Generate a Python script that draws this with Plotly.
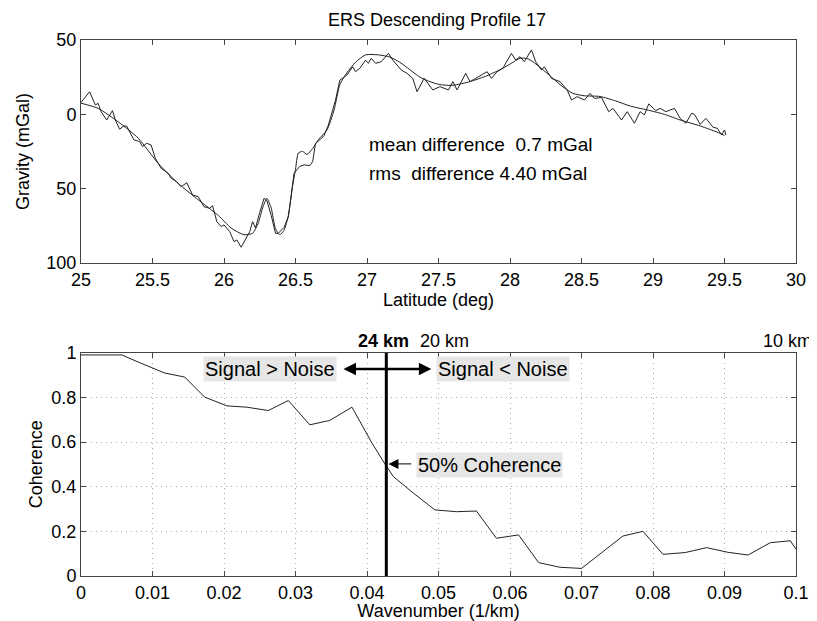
import plotly.graph_objects as go

# ---------------- data ----------------
smooth_lat = [25.0, 25.12, 25.26, 25.40, 25.54, 25.68, 25.82, 25.96, 26.05, 26.14, 26.20, 26.24, 26.27,
              26.30, 26.33, 26.36, 26.39, 26.42, 26.45, 26.48, 26.50, 26.52, 26.55, 26.58, 26.62, 26.66,
              26.72, 26.77, 26.81, 26.86, 26.92, 26.99, 27.08, 27.16, 27.23, 27.30, 27.37, 27.44, 27.51,
              27.60, 27.72, 27.84, 27.95, 28.02, 28.07, 28.12, 28.16, 28.23, 28.30, 28.37, 28.44, 28.52,
              28.63, 28.74, 28.84, 28.98, 29.08, 29.19, 29.33, 29.47, 29.50]
smooth_grav = [7.5, 4, -5, -16, -33, -46.5, -57.5, -68, -76.5, -81, -80, -73, -63,
               -56.5, -63, -77, -81, -78, -68, -48, -37, -26, -25, -27, -23, -17,
               -10.5, 3, 20, 28, 35, 40, 40, 38.5, 35, 30, 25, 22, 20,
               19.5, 22, 26, 31, 35, 37.7, 37.5, 35.4, 30, 24.2, 18.5, 14.1, 12.5,
               12, 9, 5.6, 2.5, 0, -3.8, -7.8, -12.8, -14.3]

obs_lat = [25.00, 25.06, 25.10, 25.12, 25.14, 25.18, 25.22, 25.24, 25.27, 25.30, 25.32, 25.34, 25.37,
           25.41, 25.43, 25.46, 25.49, 25.52, 25.56, 25.61, 25.63, 25.67, 25.70, 25.74, 25.78, 25.82,
           25.86, 25.90, 25.92, 25.95, 25.98, 26.00, 26.04, 26.07, 26.09, 26.12, 26.15, 26.18, 26.20,
           26.22, 26.25, 26.28, 26.30, 26.33, 26.36, 26.38, 26.42, 26.45, 26.49, 26.53, 26.56, 26.60,
           26.62, 26.64, 26.67, 26.70, 26.73, 26.78, 26.81, 26.86, 26.90, 26.92, 26.95, 26.99, 27.01,
           27.03, 27.06, 27.10, 27.15, 27.18, 27.24, 27.28, 27.32, 27.35, 27.40, 27.46, 27.51, 27.57,
           27.60, 27.63, 27.69, 27.72, 27.76, 27.84, 27.87, 27.91, 27.95, 28.01, 28.04, 28.07, 28.10,
           28.15, 28.18, 28.22, 28.24, 28.29, 28.35, 28.40, 28.43, 28.47, 28.52, 28.56, 28.59, 28.64,
           28.69, 28.72, 28.78, 28.82, 28.87, 28.91, 28.94, 28.97, 29.02, 29.05, 29.09, 29.15, 29.19,
           29.23, 29.27, 29.29, 29.33, 29.37, 29.42, 29.45, 29.48, 29.50, 29.51]
obs_grav = [8, 15.2, 6.3, 7.4, 1.8, -3.8, 2.5, -3.8, -10, -7.8, -8, -11.7, -17.2,
            -18.3, -21.7, -19.5, -20.6, -29.6, -36.3, -39.7, -43, -45.3, -48.7, -46, -54.2, -55.4,
            -62.1, -63.2, -61.5, -72.2, -75.5, -74.4, -78.9, -85.6, -84.5, -89.4, -84.5, -78.9, -72.2,
            -76.5, -66, -56.5, -58, -68, -80, -80, -76, -69, -39.6, -35, -34, -34.5,
            -31.8, -19.5, -17.2, -14.3, -7.2, 9.6, 23, 26.5, 32, 28.7, 31, 36.5, 34.3,
            37.7, 34.3, 35.4, 41, 36.5, 29.8, 27.6, 24.2, 15.2, 24.2, 16.4, 18.6, 16.4,
            22, 16.4, 27.6, 22, 24.2, 28.7, 24.2, 28.7, 31, 41, 36.5, 38.8, 35.4,
            43.3, 35.4, 29.8, 32, 24.2, 22, 16.4, 9.6, 11.9, 9.6, 14.1, 10.7, 11.4,
            1.8, 4, -3.8, 1.8, -6, 1.8, -0.4, 7, 2.5, 4, 1.8, 4, -2.7,
            -6, 0.7, 0, -6.8, -2.7, -8.7, -9.4, -13.9, -10.5, -13.9]

wavenumber = [0, 0.0057, 0.0083, 0.0117, 0.0145, 0.0173, 0.0204, 0.0232, 0.0262, 0.029, 0.032, 0.0348,
              0.0379, 0.0407, 0.0425, 0.0437, 0.0465, 0.0495, 0.0525, 0.0553, 0.0581, 0.0612, 0.064,
              0.067, 0.07, 0.0758, 0.0786, 0.0814, 0.0845, 0.0875, 0.0905, 0.0933, 0.0964, 0.0992, 0.1]
coherence = [0.99, 0.99, 0.954, 0.909, 0.891, 0.801, 0.762, 0.756, 0.741, 0.786, 0.677, 0.697,
             0.756, 0.595, 0.502, 0.445, 0.371, 0.296, 0.288, 0.291, 0.169, 0.184, 0.06,
             0.039, 0.034, 0.179, 0.2, 0.097, 0.105, 0.127, 0.106, 0.094, 0.149, 0.158, 0.12]

lat_ticks = [25, 25.5, 26, 26.5, 27, 27.5, 28, 28.5, 29, 29.5, 30]
grav_ticks = [-100, -50, 0, 50]
grav_ticktext = ["100", "50", "0", "50"]
k_ticks = [0, 0.01, 0.02, 0.03, 0.04, 0.05, 0.06, 0.07, 0.08, 0.09, 0.1]
k_ticktext = ["0", "0.01", "0.02", "0.03", "0.04", "0.05", "0.06", "0.07", "0.08", "0.09", "0.1"]
coh_ticks = [0, 0.2, 0.4, 0.6, 0.8, 1]
coh_ticktext = ["0", "0.2", "0.4", "0.6", "0.8", "1"]
cutoff_k = 0.0427
top_labels = [("<b>24 km</b>", 0.0423), ("20 km", 0.0509)]
edge_label = "10 km"

# ---------------- figure ----------------
FONT = "Liberation Sans, Arial, Helvetica, sans-serif"
LC = "#222222"
OFF = 8          # browser body margin
W, H = 817 - OFF, 621 - OFF


def fx(px):
    return (px - OFF) / W


def fy(py):
    return 1 - (py - OFF) / H


fig = go.Figure()
fig.add_trace(go.Scatter(x=obs_lat, y=obs_grav, mode="lines", line=dict(color=LC, width=1),
                         xaxis="x", yaxis="y", showlegend=False))
fig.add_trace(go.Scatter(x=smooth_lat, y=smooth_grav, mode="lines",
                         line=dict(color=LC, width=1, shape="spline", smoothing=0.6),
                         xaxis="x", yaxis="y", showlegend=False))
fig.add_trace(go.Scatter(x=wavenumber, y=coherence, mode="lines", line=dict(color=LC, width=1),
                         xaxis="x2", yaxis="y2", showlegend=False))

xd = [fx(81), fx(796)]
axis_common = dict(ticks="inside", ticklen=5, tickcolor="#444", showline=True, linecolor="#444",
                   linewidth=1, mirror="ticks", zeroline=False, automargin=False,
                   tickfont=dict(size=18, color="black", family=FONT))
grid = dict(showgrid=True, gridcolor="#aaaaaa", griddash="1px,4px", gridwidth=1)

fig.update_layout(
    width=W, height=H, margin=dict(l=0, r=0, t=0, b=0),
    paper_bgcolor="white", plot_bgcolor="white", template="none",
    font=dict(family=FONT, color="black", size=18),
    title=dict(text="ERS Descending Profile 17", x=fx(437), xanchor="center",
               y=fy(20), yanchor="middle", font=dict(size=18)),
    xaxis=dict(domain=xd, range=[25, 30], tickvals=lat_ticks, showgrid=False, anchor="y",
               title=dict(text="Latitude (deg)", standoff=2, font=dict(size=18)), **axis_common),
    yaxis=dict(domain=[fy(263), fy(40)], range=[-100, 50], tickvals=grav_ticks,
               ticktext=grav_ticktext, showgrid=False, anchor="x",
               title=dict(text="Gravity (mGal)", standoff=12, font=dict(size=18)), **axis_common),
    xaxis2=dict(domain=xd, range=[0, 0.1], tickvals=k_ticks, ticktext=k_ticktext, anchor="y2",
                title=dict(text="Wavenumber (1/km)", standoff=6, font=dict(size=18)),
                **grid, **axis_common),
    yaxis2=dict(domain=[fy(576), fy(352.7)], range=[0, 1], tickvals=coh_ticks,
                ticktext=coh_ticktext, anchor="x2",
                title=dict(text="Coherence", standoff=4, font=dict(size=18)),
                **grid, **axis_common),
)

fig.add_shape(type="line", xref="x2", yref="y2", x0=cutoff_k, x1=cutoff_k, y0=0, y1=1,
              line=dict(color="black", width=3))

ann = []
for txt, xv in top_labels:
    ann.append(dict(text=txt, x=xv, y=fy(341), xref="x2", yref="paper", xanchor="center",
                    yanchor="middle", showarrow=False, font=dict(size=18)))
ann.append(dict(text=edge_label, x=1.0, y=fy(341), xref="paper", yref="paper", xanchor="right",
                xshift=-3, yanchor="middle", showarrow=False, font=dict(size=18)))
ann.append(dict(text="mean difference\u00a0\u00a00.7 mGal", x=26.998, y=-20.6, xref="x", yref="y",
                xanchor="left", yanchor="middle", showarrow=False, font=dict(size=19)))
ann.append(dict(text="rms\u00a0\u00a0difference 4.40 mGal", x=26.998, y=-39.6, xref="x", yref="y",
                xanchor="left", yanchor="middle", showarrow=False, font=dict(size=19)))
# double arrow
ann.append(dict(text="", x=0.049, y=0.927, ax=0.0365, ay=0.927, xref="x2", yref="y2",
                axref="x2", ayref="y2", showarrow=True, arrowside="end+start",
                arrowhead=2, startarrowhead=2, arrowwidth=2.5, arrowsize=1, startarrowsize=1,
                arrowcolor="black"))
ann.append(dict(text="Signal > Noise", x=0.03576, y=0.927, xref="x2", yref="y2", xanchor="right",
                yanchor="middle", showarrow=False, bgcolor="#e6e6e6", borderpad=1, font=dict(size=20)))
ann.append(dict(text="Signal < Noise", x=0.04965, y=0.927, xref="x2", yref="y2", xanchor="left",
                yanchor="middle", showarrow=False, bgcolor="#e6e6e6", borderpad=1, font=dict(size=20)))
ann.append(dict(text="", x=0.0430, y=0.502, ax=0.0464, ay=0.502, xref="x2", yref="y2",
                axref="x2", ayref="y2", showarrow=True, arrowhead=2, arrowwidth=1, arrowsize=2,
                arrowcolor="black"))
ann.append(dict(text="50% Coherence", x=0.04681, y=0.499, xref="x2", yref="y2", xanchor="left",
                yanchor="middle", showarrow=False, bgcolor="#e6e6e6", borderpad=1, font=dict(size=20)))
fig.update_layout(annotations=ann)

fig.write_html("out.html")
